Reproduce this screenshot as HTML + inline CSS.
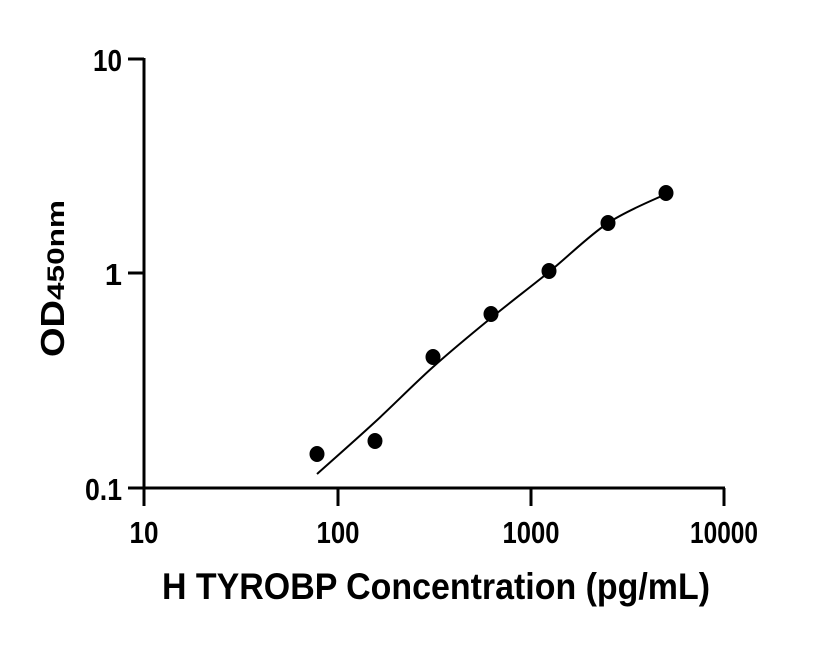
<!DOCTYPE html>
<html><head><style>body{margin:0;background:#fff}</style></head><body>
<svg width="816" height="640" xmlns="http://www.w3.org/2000/svg" font-family="Liberation Sans, sans-serif" font-weight="bold">
<g stroke="#000" stroke-width="3" fill="none">
<line x1="144" y1="58" x2="144" y2="489"/>
<line x1="143" y1="488" x2="725" y2="488"/>
<line x1="128" y1="59" x2="144" y2="59"/>
<line x1="128" y1="273" x2="144" y2="273"/>
<line x1="128" y1="488" x2="144" y2="488"/>
<line x1="144" y1="488" x2="144" y2="506"/>
<line x1="338" y1="488" x2="338" y2="506"/>
<line x1="531" y1="488" x2="531" y2="506"/>
<line x1="724" y1="488" x2="724" y2="506"/>
</g>
<g font-size="31" text-anchor="end" lengthAdjust="spacingAndGlyphs">
<text x="122" y="71" textLength="29" lengthAdjust="spacingAndGlyphs">10</text>
<text x="122" y="285">1</text>
<text x="122" y="500" textLength="37" lengthAdjust="spacingAndGlyphs">0.1</text>
</g>
<g font-size="31" text-anchor="middle">
<text x="144" y="543" textLength="29" lengthAdjust="spacingAndGlyphs">10</text>
<text x="338" y="543" textLength="43" lengthAdjust="spacingAndGlyphs">100</text>
<text x="531" y="543" textLength="57" lengthAdjust="spacingAndGlyphs">1000</text>
<text x="724" y="543" textLength="68" lengthAdjust="spacingAndGlyphs">10000</text>
</g>
<text x="436" y="599" font-size="37" text-anchor="middle" textLength="548" lengthAdjust="spacingAndGlyphs">H TYROBP Concentration (pg/mL)</text>
<text transform="translate(64,357) rotate(-90)" font-size="33"><tspan textLength="57" lengthAdjust="spacingAndGlyphs">OD</tspan><tspan font-size="24" textLength="100" lengthAdjust="spacingAndGlyphs">450nm</tspan></text>
<path d="M317,474 C326.7,465.3 355.7,439.8 375,422 C394.3,404.2 413.7,384.3 433,367 C452.3,349.7 471.7,333.8 491,318 C510.3,302.2 529.5,287.8 549,272 C568.5,256.2 588.5,236 608,223 C627.5,210 656.3,198.8 666,194" stroke="#000" stroke-width="2" fill="none"/>
<g fill="#000">
<ellipse cx="317" cy="454" rx="7.5" ry="8"/>
<ellipse cx="375" cy="441" rx="7.5" ry="8"/>
<ellipse cx="433" cy="357" rx="7.5" ry="8"/>
<ellipse cx="491" cy="314" rx="7.5" ry="8"/>
<ellipse cx="549" cy="271" rx="7.5" ry="8"/>
<ellipse cx="608" cy="223" rx="7.5" ry="8"/>
<ellipse cx="666" cy="193" rx="7.5" ry="8"/>
</g>
</svg>
</body></html>
